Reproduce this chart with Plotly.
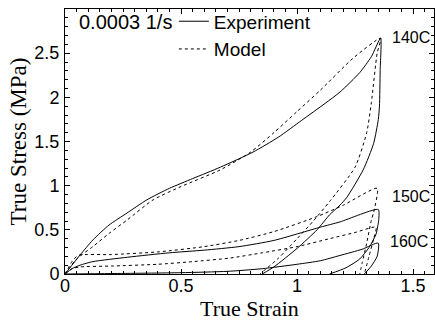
import plotly.graph_objects as go

# ---------------- data (strain, true stress MPa) ----------------
e140_exp_x = [0, 0.03, 0.065, 0.12, 0.19, 0.267, 0.353, 0.45, 0.55, 0.67, 0.81, 0.92, 1.02, 1.12, 1.185, 1.27, 1.32, 1.36,
              1.358, 1.355, 1.35, 1.33, 1.285, 1.215, 1.185, 1.14, 1.086, 1.0, 0.9, 0.85]
e140_exp_y = [0, 0.1, 0.215, 0.385, 0.555, 0.69, 0.84, 0.97, 1.08, 1.21, 1.38, 1.55, 1.74, 1.93, 2.06, 2.28, 2.46, 2.67,
              2.3, 1.9, 1.75, 1.48, 1.18, 0.87, 0.78, 0.67, 0.5, 0.29, 0.08, 0.0]

e140_mod_x = [0, 0.05, 0.12, 0.19, 0.267, 0.38, 0.5, 0.67, 0.8, 0.9, 1.0, 1.1, 1.24, 1.36,
              1.345, 1.32, 1.30, 1.25, 1.14, 1.07, 1.0, 0.92, 0.84]
e140_mod_y = [0, 0.17, 0.31, 0.46, 0.61, 0.84, 0.99, 1.18, 1.38, 1.6, 1.84, 2.08, 2.44, 2.67,
              2.5, 1.94, 1.6, 1.21, 0.82, 0.6, 0.4, 0.18, 0.0]

e150_exp_x = [0, 0.03, 0.065, 0.12, 0.27, 0.45, 0.6, 0.75, 0.9, 1.1, 1.185, 1.35,
              1.352, 1.34, 1.31, 1.27, 1.21, 1.14]
e150_exp_y = [0, 0.06, 0.10, 0.14, 0.19, 0.24, 0.27, 0.31, 0.38, 0.53, 0.59, 0.73,
              0.62, 0.45, 0.3, 0.17, 0.07, 0.0]

e150_mod_x = [0, 0.03, 0.056, 0.2, 0.4, 0.6, 0.75, 0.9, 1.086, 1.2, 1.345,
              1.33, 1.32, 1.30, 1.28, 1.27]
e150_mod_y = [0, 0.14, 0.21, 0.22, 0.25, 0.31, 0.38, 0.48, 0.65, 0.78, 0.97,
              0.7, 0.61, 0.35, 0.12, 0.0]

e160_exp_x = [0, 0.2, 0.5, 0.7, 0.85, 1.0, 1.1, 1.185, 1.28, 1.35,
              1.345, 1.32, 1.29]
e160_exp_y = [0, 0.005, 0.015, 0.03, 0.06, 0.11, 0.15, 0.21, 0.28, 0.35,
              0.2, 0.09, 0.0]

e160_mod_x = [0, 0.03, 0.065, 0.2, 0.4, 0.55, 0.71, 0.85, 1.0, 1.14, 1.25, 1.34,
              1.33, 1.31, 1.29]
e160_mod_y = [0, 0.06, 0.08, 0.09, 0.11, 0.14, 0.18, 0.24, 0.31, 0.4, 0.47, 0.53,
              0.4, 0.2, 0.0]

temp_labels = ["140C", "150C", "160C"]
label_x = [1.40, 1.40, 1.39]
label_y = [2.68, 0.88, 0.37]

x_ticks = [0, 0.5, 1, 1.5]
x_ticktext = ["0", "0.5", "1", "1.5"]
y_ticks = [0, 0.5, 1, 1.5, 2, 2.5, 3]
y_ticktext = ["0", "0.5", "1", "1.5", "2", "2.5", "3"]

rate_text = "0.0003 1/s"
x_title = "True Strain"
y_title = "True Stress (MPa)"

# ---------------- figure ----------------
SANS = "Liberation Sans, Arial, sans-serif"
SERIF = "Liberation Serif, Times New Roman, serif"
solid = dict(color="black", width=1)
dashed = dict(color="black", width=1, dash="3px,3px")

fig = go.Figure()
series = [
    (e140_exp_x, e140_exp_y, solid, "Experiment", True),
    (e140_mod_x, e140_mod_y, dashed, "Model", True),
    (e150_exp_x, e150_exp_y, solid, "Experiment", False),
    (e150_mod_x, e150_mod_y, dashed, "Model", False),
    (e160_exp_x, e160_exp_y, solid, "Experiment", False),
    (e160_mod_x, e160_mod_y, dashed, "Model", False),
]
for xs, ys, ln, name, show in series:
    fig.add_trace(go.Scatter(x=xs, y=ys, mode="lines", line=dict(ln, shape="spline", smoothing=0.6),
                             name=name, showlegend=show, legendgroup=name, cliponaxis=False))

for t, lx, ly in zip(temp_labels, label_x, label_y):
    fig.add_annotation(x=lx, y=ly, xref="x", yref="y", text=t, showarrow=False,
                       xanchor="left", yanchor="middle", font=dict(family=SANS, size=16, color="black"))

fig.add_annotation(x=0.033, y=0.951, xref="paper", yref="paper", text=rate_text, showarrow=False,
                   xanchor="left", yanchor="middle", font=dict(family=SANS, size=20, color="black"))

# x-axis title placed close under the tick labels, as in the reference
fig.add_annotation(x=0.5, y=-0.132, xref="paper", yref="paper", text=x_title, showarrow=False,
                   xanchor="center", yanchor="middle", font=dict(family=SERIF, size=22, color="black"))

axis_common = dict(showline=True, linecolor="black", linewidth=1, mirror="allticks",
                   ticks="inside", ticklen=5, tickcolor="black", showgrid=False, zeroline=False,
                   tickfont=dict(family=SANS, size=18, color="black"))

fig.update_xaxes(range=[0, 1.59], tickvals=x_ticks, ticktext=x_ticktext, ticklabelstandoff=-5,
                 minor=dict(dtick=0.05, ticks="inside", ticklen=3, tickcolor="black"),
                 **axis_common)
fig.update_yaxes(range=[0, 3.0001], tickvals=y_ticks, ticktext=y_ticktext, ticklabelstandoff=1,
                 minor=dict(dtick=0.1, ticks="inside", ticklen=3, tickcolor="black"),
                 title=dict(text=y_title, font=dict(family=SERIF, size=23, color="black"), standoff=1),
                 **axis_common)

fig.update_layout(width=435, height=323, margin=dict(l=65, r=1, t=9, b=49),
                  plot_bgcolor="white", paper_bgcolor="white",
                  legend=dict(x=0.295, y=1.025, xanchor="left", yanchor="top", bgcolor="rgba(0,0,0,0)",
                              font=dict(family=SANS, size=19, color="black"), tracegroupgap=0,
                              itemwidth=30),
                  showlegend=True)

fig.write_html("out.html")
